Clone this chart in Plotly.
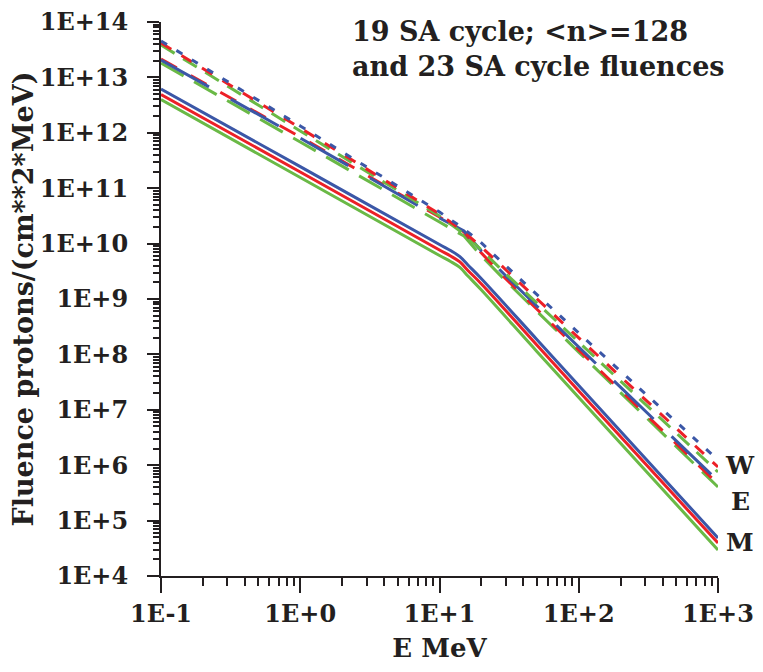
import plotly.graph_objects as go

# energies (MeV)
e_dash = [0.1, 1, 10, 15, 20, 30, 100, 1000]
e_mean = [0.1, 1, 10, 12, 14, 16, 20, 50, 100, 1000]

# W (worst case) fluences, dashed
w_blue = [4.54e13, 1.33e12, 3.72e10, 1.84e10, 1.03e10, 3.94e9, 2.43e8, 1.24e6]
w_red = [4.18e13, 1.22e12, 3.42e10, 1.62e10, 8.69e9, 3.34e9, 1.98e8, 9.29e5]
w_green = [3.85e13, 1.08e12, 3.15e10, 1.49e10, 7.66e9, 2.83e9, 1.67e8, 7.54e5]

# E fluences, long dash
e_blue = [2.06e13, 8.06e11, 2.90e10, 1.69e10, 7.35e9, 2.60e9, 1.36e8, 5.19e5]
e_red = [2.15e13, 8.40e11, 3.02e10, 1.62e10, 6.76e9, 2.30e9, 1.20e8, 4.58e5]
e_green = [1.82e13, 6.82e11, 2.45e10, 1.37e10, 5.97e9, 2.11e9, 1.10e8, 4.04e5]

# M (mean) fluences, solid
m_blue = [6.18e12, 2.45e11, 9.64e9, 7.51e9, 5.81e9, 4.11e9, 2.32e9, 1.86e8, 2.74e7, 4.85e4]
m_red = [4.91e12, 1.96e11, 7.66e9, 5.97e9, 4.66e9, 3.27e9, 1.87e9, 1.48e8, 2.18e7, 3.94e4]
m_green = [3.99e12, 1.56e11, 6.10e9, 4.75e9, 3.71e9, 2.60e9, 1.45e9, 1.13e8, 1.67e7, 2.95e4]

x_ticks = [0.1, 1, 10, 100, 1000]
x_labels = ["1E-1", "1E+0", "1E+1", "1E+2", "1E+3"]
y_ticks = [10.0 ** k for k in range(4, 15)]
y_labels = ["1E+%d" % k for k in range(4, 15)]

BLUE = "#3b57a7"
RED = "#ec2027"
GREEN = "#6ab946"
INK = "#231f20"
FONT = "DejaVu Serif"

# minor tick positions 2..9 per decade
x_minor = [m * 10.0 ** k for k in range(-1, 3) for m in range(2, 10)]
y_minor = [m * 10.0 ** k for k in range(4, 14) for m in range(2, 10)]

fig = go.Figure()

def add(x, y, color, dash, shape="linear"):
    fig.add_trace(go.Scatter(x=x, y=y, mode="lines", line_shape=shape,
                             line=dict(color=color, width=3, dash=dash),
                             showlegend=False, hoverinfo="skip"))

add(e_dash, e_green, GREEN, "26px,12px")
add(e_dash, e_red, RED, "18px,16px")
add(e_dash, e_blue, BLUE, "55px,25px")
add(e_dash, w_green, GREEN, "16px,10px")
add(e_dash, w_red, RED, "12px,12px")
add(e_dash, w_blue, BLUE, "7px,11px")
add(e_mean, m_green, GREEN, "solid", "spline")
add(e_mean, m_red, RED, "solid", "spline")
add(e_mean, m_blue, BLUE, "solid", "spline")

fig.update_xaxes(type="log", range=[-1, 3], tickvals=x_ticks, ticktext=x_labels,
                 automargin=False, ticklabeloverflow="allow",
                 showgrid=False, zeroline=False, showline=True, linecolor=INK, linewidth=2,
                 ticks="outside", ticklen=15, tickwidth=2, tickcolor=INK,
                 minor=dict(tickvals=x_minor, ticks="outside", ticklen=8, tickwidth=1.5,
                            tickcolor=INK, showgrid=False),
                 tickfont=dict(family=FONT, size=24, color=INK, weight="bold"),
                 title=dict(text="E MeV", standoff=12,
                            font=dict(family=FONT, size=26, color=INK, weight="bold")))
fig.update_yaxes(type="log", range=[4, 14], tickvals=y_ticks, ticktext=y_labels,
                 automargin=False, ticklabeloverflow="allow",
                 showgrid=False, zeroline=False, showline=True, linecolor=INK, linewidth=2,
                 ticks="outside", ticklen=12, tickwidth=2, tickcolor=INK,
                 minor=dict(tickvals=y_minor, ticks="outside", ticklen=6, tickwidth=1.5,
                            tickcolor=INK, showgrid=False),
                 tickfont=dict(family=FONT, size=24, color=INK, weight="bold"),
                 ticklabelstandoff=14,
                 title=dict(text="Fluence protons/(cm**2*MeV)", standoff=0,
                            font=dict(family=FONT, size=27, color=INK, weight="bold")))

fig.add_annotation(x=0.34, y=1.015, xref="paper", yref="paper", xanchor="left", yanchor="top",
                   align="left", showarrow=False,
                   text="19 SA cycle; &lt;n&gt;=128<br>and 23 SA cycle fluences",
                   font=dict(family=FONT, size=27, color=INK, weight="bold"))
for lab, yv in [("W", 6.0), ("E", 5.34), ("M", 4.6)]:
    fig.add_annotation(x=1.04, y=yv, xref="paper", yref="y", xanchor="center", yanchor="middle",
                       showarrow=False, text=lab,
                       font=dict(family=FONT, size=25, color=INK, weight="bold"))

# page body adds 8px offset; plot area kept at x 161-718, y 22-576 in the window
fig.update_layout(width=763, height=672, plot_bgcolor="white", paper_bgcolor="white",
                  margin=dict(l=153, r=53, t=14, b=104))

fig.write_html("out.html")
